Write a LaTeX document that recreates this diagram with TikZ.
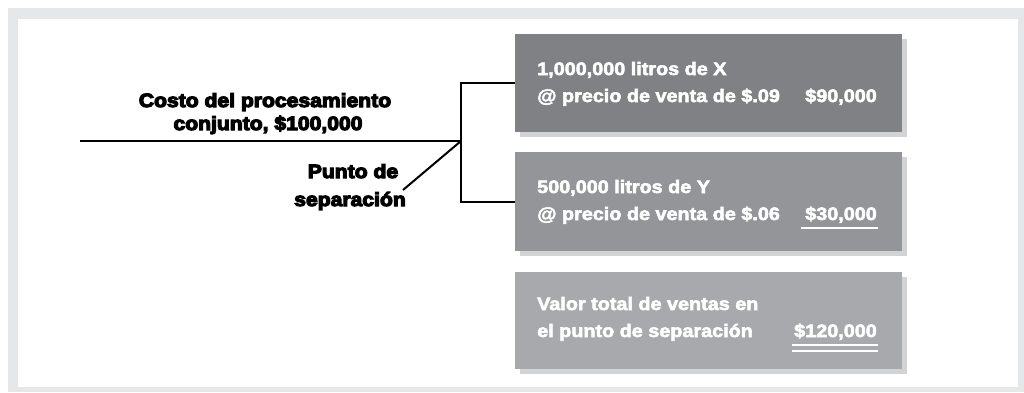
\documentclass[tikz,border=0pt]{standalone}
\usepackage{fontspec}
\setmainfont{Liberation Sans}
\newfontfamily\boxfont{Liberation Sans}[BoldFeatures={FakeStretch=1.1,FakeBold=3}]
\newfontfamily\heavyfont{Liberation Sans}[BoldFeatures={FakeStretch=1.1,FakeBold=6}]
\definecolor{framegray}{HTML}{E6E7E8}
\definecolor{shadowgray}{HTML}{D1D3D4}
\definecolor{boxA}{HTML}{808184}
\definecolor{boxB}{HTML}{939598}
\definecolor{boxC}{HTML}{A7A9AC}
\tikzset{
  panel/.style={draw=none, anchor=north west, minimum width=387pt, minimum height=98pt, inner sep=0pt},
  wtext/.style={text=white, inner sep=0pt, font=\boxfont\bfseries\fontsize{18}{20}\selectfont},
  btext/.style={text=black, inner sep=0pt, font=\heavyfont\bfseries\fontsize{19.2}{22}\selectfont},
  conn/.style={draw=black, line width=2pt},
  uline/.style={draw=white, line width=1.1pt},
}
\begin{document}
\begin{tikzpicture}[x=1pt,y=-1pt]
\useasboundingbox (0,0) rectangle (1024,392);
\fill[white] (0,0) rectangle (1024,392);
\fill[framegray] (8,8) rectangle (1024,392);
\fill[white] (18,19) rectangle (1018,387);
% shadows
\fill[shadowgray] (520,39) rectangle (907,137);
\fill[shadowgray] (520,157) rectangle (907,256);
\fill[shadowgray] (520,277) rectangle (907,374);
% panels
\node[panel, fill=boxA, minimum height=98pt] (b1) at (515,34) {};
\node[panel, fill=boxB, minimum height=99pt] (b2) at (515,152) {};
\node[panel, fill=boxC, minimum height=97pt] (b3) at (515,272) {};
% panel texts
\node[wtext, anchor=base west] (t1a) at (537,75) {1,000,000 litros de X};
\node[wtext, anchor=base west] (t1b) at (537,102) {@ precio de venta de \$.09};
\node[wtext, anchor=base east] (v1) at (877,102) {\$90,000};
\node[wtext, anchor=base west] (t2a) at (537,193) {500,000 litros de Y};
\node[wtext, anchor=base west] (t2b) at (537,220) {@ precio de venta de \$.06};
\node[wtext, anchor=base east] (v2) at (877,220) {\$30,000};
\node[wtext, anchor=base west] (t3a) at (537,310) {Valor total de ventas en};
\node[wtext, anchor=base west] (t3b) at (537,337) {el punto de separación};
\node[wtext, anchor=base east] (v3) at (877,337) {\$120,000};
\draw[uline] ([xshift=-4pt,yshift=-8pt]v2.base west) -- ([xshift=1pt,yshift=-8pt]v2.base east);
\draw[uline] ([xshift=-2pt,yshift=-8pt]v3.base west) -- ([xshift=1pt,yshift=-8pt]v3.base east);
\draw[uline] ([xshift=-2pt,yshift=-14pt]v3.base west) -- ([xshift=1pt,yshift=-14pt]v3.base east);
% black labels
\node[btext, anchor=base] (c1) at (265,107) {Costo del procesamiento};
\node[btext, anchor=base] (c2) at (268,130) {conjunto, \$100,000};
\node[btext, anchor=base] (p1) at (353,178) {Punto de};
\node[btext, anchor=base] (p2) at (350,206) {separación};
% connectors
\coordinate (start) at (80,141);
\coordinate (split) at (461,141);
\coordinate (pointer) at (403,190);
\draw[conn] (start) -- (split);
\draw[conn] (b1.west) -| (split) |- (b2.west);
\draw[conn] (split) -- (pointer);
\end{tikzpicture}
\end{document}
